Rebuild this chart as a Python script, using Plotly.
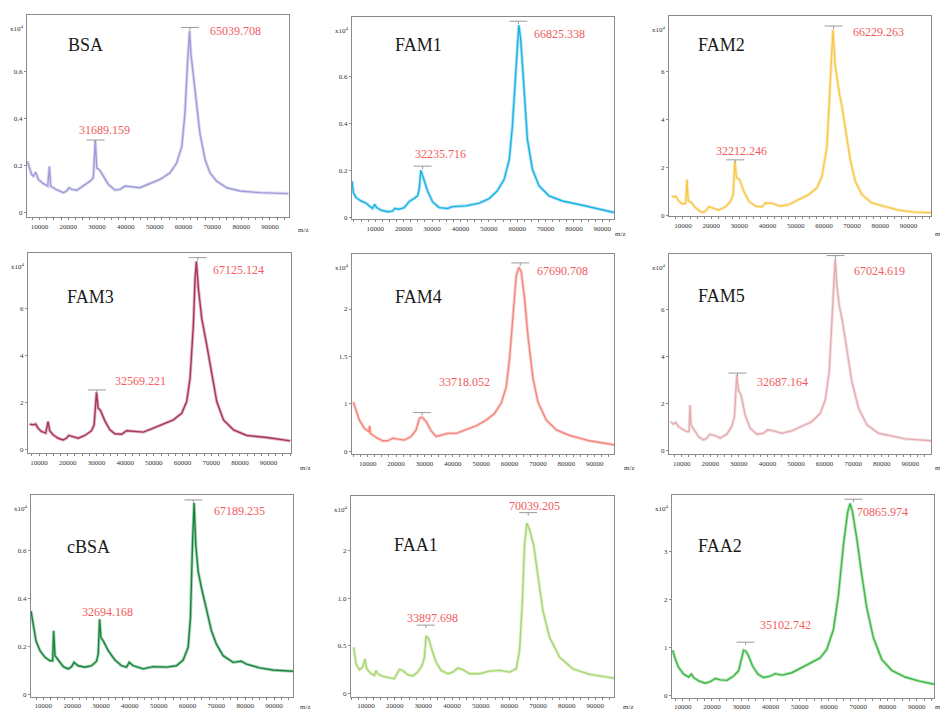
import plotly.graph_objects as go

# The page body has an 8px margin: the figure is shrunk so it ends exactly at the window edge,
# and every reference pixel position is shifted by that margin.
OFF = 8
W, H = 948 - OFF, 716 - OFF

# ------------------------------------------------------------------ data
panel_names = ["BSA", "FAM1", "FAM2", "FAM3", "FAM4", "FAM5", "cBSA", "FAA1", "FAA2"]

bsa_mz = [5840, 7340, 7920, 8730, 9650, 11390, 12890, 13470, 13930, 15400, 18300, 19500, 20300, 21200,
          23000, 25260, 27570, 28700, 29400, 29900, 30800, 32200, 33900, 36200, 38000, 39700, 42000,
          44900, 48400, 51800, 55300, 57600, 59400, 60500, 61300, 62100, 62600, 63400, 64600, 65700,
          67500, 69200, 71500, 75000, 79600, 86500, 96400]
bsa_int = [0.217, 0.161, 0.154, 0.171, 0.14, 0.122, 0.112, 0.196, 0.112, 0.10, 0.084, 0.091, 0.105, 0.098,
           0.094, 0.112, 0.133, 0.147, 0.308, 0.189, 0.182, 0.154, 0.119, 0.095, 0.098, 0.112, 0.109,
           0.105, 0.123, 0.14, 0.168, 0.21, 0.28, 0.42, 0.615, 0.772, 0.671, 0.587, 0.46, 0.336,
           0.224, 0.168, 0.133, 0.105, 0.091, 0.084, 0.08]

fam1_mz = [1790, 2260, 3200, 4960, 6700, 8470, 9060, 9770, 10470, 12000, 14340, 16100, 16800, 18450,
           20200, 21960, 23700, 24900, 25480, 26070, 26900, 28400, 30200, 32500, 35450, 37200, 41900,
           46600, 50100, 53000, 55400, 57200, 58300, 59300, 60100, 60560, 61260, 62400, 63600, 65370,
           67700, 71200, 75900, 83000, 88800, 94100]
fam1_int = [0.155, 0.106, 0.085, 0.070, 0.061, 0.042, 0.038, 0.056, 0.042, 0.031, 0.024, 0.027, 0.038, 0.035,
            0.042, 0.068, 0.080, 0.092, 0.12, 0.201, 0.169, 0.113, 0.066, 0.042, 0.038, 0.046, 0.049,
            0.061, 0.080, 0.113, 0.162, 0.246, 0.387, 0.585, 0.768, 0.817, 0.754, 0.528, 0.331, 0.204,
            0.134, 0.092, 0.070, 0.052, 0.035, 0.021]

fam2_mz = [5990, 6810, 7400, 8580, 9760, 10940, 11420, 11890, 12700, 14480, 16250, 17430, 18600, 19200,
           20970, 22740, 25100, 26870, 27820, 28400, 29000, 30060, 31600, 33360, 35720, 38080, 39260,
           41620, 44570, 47520, 51060, 54600, 57550, 59320, 61090, 62270, 63220, 64040, 64630, 65460,
           66400, 67580, 69350, 71120, 73480, 77020, 81740, 86460, 92360, 98020]
fam2_int = [0.79, 0.76, 0.79, 0.58, 0.47, 0.49, 1.49, 0.58, 0.56, 0.31, 0.14, 0.125, 0.24, 0.35,
            0.28, 0.21, 0.35, 0.58, 0.86, 2.25, 1.56, 1.49, 1.0, 0.58, 0.375, 0.35, 0.51,
            0.49, 0.375, 0.44, 0.65, 0.86, 1.14, 1.625, 2.875, 5.375, 7.74, 6.21, 5.65, 5.10,
            4.54, 3.57, 2.32, 1.42, 0.86, 0.51, 0.375, 0.21, 0.125, 0.10]

fam3_mz = [6740, 7900, 8840, 9650, 10810, 12330, 13140, 13730, 14890, 16640, 18380, 19550, 20360, 21870,
           23620, 25950, 28280, 29200, 30020, 30600, 31420, 32930, 34680, 36430, 38750, 40500, 42830,
           46320, 49810, 53310, 56800, 59710, 61450, 62620, 63780, 64370, 64830, 65530, 66690, 68440,
           70190, 71930, 74260, 77750, 82410, 89400, 97540]
fam3_int = [1.09, 1.06, 1.09, 0.92, 0.78, 0.71, 1.20, 0.81, 0.64, 0.49, 0.42, 0.49, 0.61, 0.54,
            0.49, 0.61, 0.81, 1.06, 2.44, 1.77, 1.67, 1.23, 0.85, 0.68, 0.66, 0.81, 0.78,
            0.75, 0.92, 1.09, 1.27, 1.55, 2.05, 3.04, 5.30, 7.27, 8.0, 6.85, 5.58, 4.45,
            3.18, 2.05, 1.27, 0.85, 0.61, 0.52, 0.38]

fam4_mz = [4940, 5880, 7060, 8820, 10350, 10700, 10940, 12940, 15300, 17060, 18820, 20590, 22940, 25290,
           27060, 28240, 29180, 30590, 32350, 34120, 35880, 38240, 41180, 44710, 48240, 51760, 54700,
           57060, 58820, 60000, 61180, 62350, 63290, 64120, 65290, 66470, 68240, 70000, 72940, 76470,
           81180, 88240, 96820]
fam4_int = [0.52, 0.44, 0.33, 0.245, 0.21, 0.27, 0.19, 0.147, 0.112, 0.112, 0.14, 0.13, 0.12, 0.157,
            0.227, 0.35, 0.36, 0.315, 0.217, 0.157, 0.168, 0.19, 0.19, 0.227, 0.27, 0.33, 0.40,
            0.51, 0.68, 0.98, 1.47, 1.85, 1.94, 1.89, 1.61, 1.22, 0.77, 0.52, 0.33, 0.227,
            0.168, 0.112, 0.07]

fam5_mz = [6150, 7080, 7900, 8830, 10580, 11750, 12570, 12920, 13270, 14090, 15840, 17590, 18760, 19930,
           21680, 23430, 25770, 27520, 28450, 29270, 29850, 30790, 32190, 33940, 36280, 38610, 40130,
           42120, 45040, 48540, 52040, 55550, 58470, 60220, 61620, 62550, 63370, 63720, 64300, 65120,
           66290, 67810, 69560, 71900, 74820, 78910, 82410, 88250, 97240]
fam5_int = [1.22, 1.11, 1.19, 1.01, 0.87, 0.79, 0.79, 1.93, 1.08, 0.91, 0.58, 0.44, 0.51, 0.68,
            0.62, 0.51, 0.68, 1.01, 1.43, 3.21, 2.57, 2.35, 1.50, 0.94, 0.68, 0.72, 0.87,
            0.82, 0.72, 0.82, 1.01, 1.22, 1.57, 2.14, 3.35, 5.48, 7.60, 8.17, 7.04, 6.18,
            5.48, 4.20, 2.92, 1.79, 1.08, 0.72, 0.62, 0.48, 0.40]

cbsa_mz = [5730, 6540, 7460, 8850, 10580, 12310, 13230, 13580, 14040, 15200, 16930, 18660, 19810, 20620,
           22120, 24430, 26740, 28470, 29050, 29510, 29970, 30780, 32510, 34820, 37130, 38860, 39780,
           41170, 44630, 48090, 52710, 56180, 58490, 60220, 61020, 61720, 62290, 62870, 63680, 64830,
           66560, 68300, 70030, 72340, 75800, 78690, 80420, 85040, 89660, 96580]
cbsa_int = [0.349, 0.294, 0.224, 0.183, 0.155, 0.141, 0.141, 0.266, 0.162, 0.144, 0.116, 0.107, 0.116, 0.134,
            0.12, 0.114, 0.12, 0.139, 0.169, 0.314, 0.238, 0.224, 0.183, 0.144, 0.12, 0.114, 0.134,
            0.12, 0.107, 0.116, 0.114, 0.12, 0.144, 0.197, 0.321, 0.626, 0.80, 0.626, 0.515, 0.446,
            0.349, 0.266, 0.21, 0.162, 0.134, 0.139, 0.127, 0.111, 0.102, 0.097]

faa1_mz = [5690, 6510, 7670, 8840, 9650, 10230, 11750, 12910, 13490, 14080, 15820, 18150, 19900, 20480,
           21640, 22810, 24560, 26300, 28050, 29560, 30380, 30960, 31890, 33060, 34450, 36200, 38530,
           40280, 42020, 43770, 46100, 49590, 53090, 56580, 60070, 62400, 63570, 64500, 65310, 66130,
           67060, 68460, 69970, 71720, 74050, 77540, 82200, 88020, 96520]
faa1_int = [0.485, 0.31, 0.248, 0.276, 0.363, 0.258, 0.206, 0.188, 0.24, 0.206, 0.178, 0.16, 0.153, 0.188,
            0.251, 0.241, 0.195, 0.181, 0.223, 0.293, 0.38, 0.607, 0.572, 0.45, 0.328, 0.241, 0.206,
            0.223, 0.265, 0.248, 0.206, 0.206, 0.234, 0.241, 0.223, 0.258, 0.45, 0.938, 1.566, 1.793,
            1.723, 1.566, 1.217, 0.868, 0.589, 0.38, 0.258, 0.199, 0.16]

faa2_mz = [6590, 7500, 8630, 10340, 12050, 12960, 13760, 15460, 17740, 19450, 21150, 22860, 25140, 27410,
           29120, 30030, 30830, 31620, 32530, 33900, 35720, 37650, 39930, 41640, 43910, 47330, 50740,
           54150, 57000, 59280, 61550, 63260, 64970, 66440, 67240, 68040, 69520, 71230, 72930, 75210,
           78050, 81460, 86020, 90570, 95920]
faa2_int = [0.94, 0.75, 0.58, 0.44, 0.38, 0.44, 0.37, 0.30, 0.25, 0.285, 0.35, 0.32, 0.31, 0.40,
            0.51, 0.75, 0.94, 0.92, 0.82, 0.61, 0.44, 0.37, 0.40, 0.45, 0.42, 0.47, 0.58,
            0.68, 0.78, 0.96, 1.375, 2.10, 3.15, 3.84, 4.01, 3.84, 3.28, 2.52, 1.83, 1.20,
            0.75, 0.52, 0.38, 0.30, 0.23]

spectra_mz = [bsa_mz, fam1_mz, fam2_mz, fam3_mz, fam4_mz, fam5_mz, cbsa_mz, faa1_mz, faa2_mz]
spectra_int = [bsa_int, fam1_int, fam2_int, fam3_int, fam4_int, fam5_int, cbsa_int, faa1_int, faa2_int]

# annotated peaks (bar position in m/z and intensity, label text)
big_peak_mz = [62250, 60440, 63450, 65300, 63760, 63840, 62060, 66590, 68380]
big_peak_int = [0.787, 0.834, 7.90, 8.16, 1.986, 8.31, 0.813, 1.904, 4.10]
big_peak_text = ["65039.708", "66825.338", "66229.263", "67125.124", "67690.708",
                 "67024.619", "67189.235", "70039.205", "70865.974"]
small_peak_mz = [29490, 26660, 28520, 30140, 29180, 29500, None, 30840, 31510]
small_peak_int = [0.308, 0.218, 2.31, 2.54, 0.409, 3.29, None, 0.718, 1.11]
small_peak_text = ["31689.159", "32235.716", "32212.246", "32569.221", "33718.052",
                   "32687.164", "32694.168", "33897.698", "35102.742"]

x_tick_vals = [10000, 20000, 30000, 40000, 50000, 60000, 70000, 80000, 90000]
x_tick_text = ["10000", "20000", "30000", "40000", "50000", "60000", "70000", "80000", "90000"]
y_tick_vals = [[0, 0.2, 0.4, 0.6], [0, 0.2, 0.4, 0.6], [0, 2, 4, 6],
               [0, 2, 4, 6], [0, 0.5, 1.0, 1.5], [0, 2, 4, 6],
               [0, 0.2, 0.4, 0.6], [0, 0.5, 1.0, 1.5], [0, 1, 2, 3]]
y_tick_text = [["0", "0.2", "0.4", "0.6"], ["0", "0.2", "0.4", "0.6"], ["0", "2", "4", "6"],
               ["0", "2", "4", "6"], ["0", "1", "1.5", "2"], ["0", "2", "4", "6"],
               ["0", "0.2", "0.4", "0.6"], ["0", "0.5", "1.0", "2"], ["0", "1", "2", "3"]]

# ------------------------------------------------------------------ layout / style (reference pixels)
colors = ["#9f9dd9", "#1bb2e4", "#f8c84a", "#a8345a", "#f3877d", "#e4adb1", "#17853b", "#a9d672", "#3fb846"]

boxes = [(27, 15, 289, 218), (352, 17, 614, 220), (669, 16, 931, 217),
         (28, 254, 291, 455), (352, 255, 614, 456), (669, 255, 931, 456),
         (31, 497, 293, 700), (351, 498, 614, 700), (672, 497, 934, 701)]
x_ranges = [(5700, 96600), (1800, 94100), (5050, 98000), (6150, 97800), (4470, 96800),
            (5560, 97240), (5730, 96580), (4760, 96520), (6360, 95920)]
y_ranges = [(-0.02, 0.84), (-0.007, 0.852), (-0.04, 8.32), (-0.14, 8.36), (-0.028, 2.08),
            (-0.17, 8.38), (-0.011, 0.834), (-0.04, 2.08), (-0.06, 4.19)]

title_px = [(85, 45), (418, 45), (721, 45), (90, 298), (418, 298), (721, 297), (88, 549), (416, 547), (720, 548)]
big_label_px = [(208, 31), (532, 34), (851, 32), (211, 271), (535, 272), (852, 272), (212, 513), (507, 508), (855, 514)]
small_label_px = [(77, 131), (413, 155), (714, 152), (113, 383), (437, 384), (755, 384), (80, 615), (405, 621), (758, 628)]
mz_label_px = [(303, 231), (620, 235), (940, 235), (305, 470), (629, 470), (940, 470), (305, 710), (628, 710), (940, 710)]

SERIF = "Liberation Serif"
RED = "#f25c5c"
AXIS = "#8a8a8a"


def fx(x):
    return (x - OFF) / W


def fy(y):
    return 1 - (y - OFF) / H


fig = go.Figure()
layout = dict(width=W, height=H, margin=dict(l=0, r=0, t=0, b=0),
              paper_bgcolor="white", plot_bgcolor="white", showlegend=False)
annotations = []
shapes = []

for i in range(9):
    n = "" if i == 0 else str(i + 1)
    xa, ya = "x" + n, "y" + n
    x0, y0, x1, y1 = boxes[i]
    fig.add_trace(go.Scatter(x=spectra_mz[i], y=spectra_int[i], mode="lines",
                             line=dict(color=colors[i], width=3.2), opacity=0.35,
                             xaxis=xa, yaxis=ya, hoverinfo="skip"))
    fig.add_trace(go.Scatter(x=spectra_mz[i], y=spectra_int[i], mode="lines",
                             line=dict(color=colors[i], width=1.4),
                             xaxis=xa, yaxis=ya, name=panel_names[i]))
    layout["xaxis" + n] = dict(
        domain=[fx(x0), fx(x1)], range=list(x_ranges[i]), anchor=ya,
        tickvals=x_tick_vals, ticktext=x_tick_text,
        tickfont=dict(family=SERIF, size=7, color="#333"),
        showline=True, mirror=True, linecolor=AXIS, linewidth=1,
        ticks="outside", ticklen=2, tickcolor=AXIS,
        minor=dict(dtick=2500, tick0=0, ticks="outside", ticklen=1.5, tickcolor=AXIS),
        showgrid=False, zeroline=False, fixedrange=True)
    layout["yaxis" + n] = dict(
        domain=[fy(y1), fy(y0)], range=list(y_ranges[i]), anchor=xa,
        tickvals=y_tick_vals[i], ticktext=y_tick_text[i],
        tickfont=dict(family=SERIF, size=7, color="#333"),
        showline=True, mirror=True, linecolor=AXIS, linewidth=1,
        ticks="outside", ticklen=2, tickcolor=AXIS,
        showgrid=False, zeroline=False, fixedrange=True)

    # panel title
    annotations.append(dict(x=fx(title_px[i][0]), y=fy(title_px[i][1]), xref="paper", yref="paper",
                            text=panel_names[i], showarrow=False, xanchor="center", yanchor="middle",
                            font=dict(family=SERIF, size=18, color="#1a1a1a")))
    # peak labels
    for (lx, ly), txt in ((big_label_px[i], big_peak_text[i]), (small_label_px[i], small_peak_text[i])):
        annotations.append(dict(x=fx(lx), y=fy(ly), xref="paper", yref="paper", text=txt,
                                showarrow=False, xanchor="left", yanchor="middle",
                                font=dict(family=SERIF, size=12, color=RED)))
    # x10^4 label
    annotations.append(dict(x=fx(x0 - 1), y=fy(y0 + 14), xref="paper", yref="paper",
                            text="x10<sup>4</sup>", showarrow=False, xanchor="right", yanchor="middle",
                            font=dict(family=SERIF, size=7, color="#333")))
    # m/z label
    annotations.append(dict(x=fx(mz_label_px[i][0]), y=fy(mz_label_px[i][1]), xref="paper", yref="paper",
                            text="m/z", showarrow=False, xanchor="center", yanchor="middle",
                            font=dict(family=SERIF, size=7, color="#333")))

    # peak bars
    hw = 9 * (x_ranges[i][1] - x_ranges[i][0]) / (x1 - x0)
    tick = 3 * (y_ranges[i][1] - y_ranges[i][0]) / (y1 - y0)
    for pm, pi in ((big_peak_mz[i], big_peak_int[i]), (small_peak_mz[i], small_peak_int[i])):
        if pm is None:
            continue
        shapes.append(dict(type="line", xref=xa, yref=ya, x0=pm - hw, x1=pm + hw, y0=pi, y1=pi,
                           line=dict(color="#9a9a9a", width=1)))
        shapes.append(dict(type="line", xref=xa, yref=ya, x0=pm, x1=pm, y0=pi, y1=pi - tick,
                           line=dict(color="#9a9a9a", width=1)))

layout["annotations"] = annotations
layout["shapes"] = shapes
fig.update_layout(**layout)
fig.write_html("out.html")
